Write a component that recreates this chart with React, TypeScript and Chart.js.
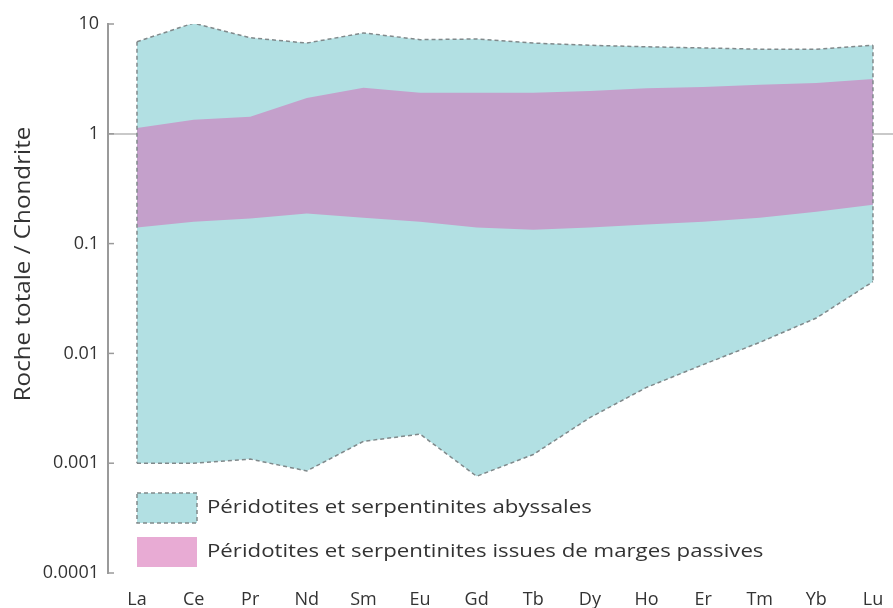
import { useEffect, useRef } from "react";
import { Chart, registerables } from "chart.js";

Chart.register(...registerables);

const elements = ["La", "Ce", "Pr", "Nd", "Sm", "Eu", "Gd", "Tb", "Dy", "Ho", "Er", "Tm", "Yb", "Lu"];
const yTickValues = [0.0001, 0.001, 0.01, 0.1, 1, 10];
const yTickLabels = ["0.0001", "0.001", "0.01", "0.1", "1", "10"];

const abyssalMax = [6.9, 10.2, 7.5, 6.7, 8.3, 7.2, 7.3, 6.7, 6.4, 6.2, 6.05, 5.9, 5.9, 6.4];
const abyssalMin = [0.001, 0.001, 0.00109, 0.00085, 0.00158, 0.00184, 0.00076, 0.0012, 0.0026, 0.0049, 0.0079, 0.0126, 0.021, 0.045];
const passiveMax = [1.13, 1.34, 1.43, 2.12, 2.62, 2.36, 2.36, 2.36, 2.46, 2.6, 2.67, 2.8, 2.9, 3.16];
const passiveMin = [0.14, 0.158, 0.169, 0.188, 0.172, 0.158, 0.14, 0.134, 0.14, 0.149, 0.158, 0.172, 0.195, 0.226];

const seriesNames = [
  "Péridotites et serpentinites abyssales",
  "Péridotites et serpentinites issues de marges passives",
];
const yTitle = "Roche totale / Chondrite";

const CYAN = "#b2e0e3";
const PURPLE = "#c4a0cb";
const PINK = "#e8abd4";
const DASH_COLOR = "#80898b";
const TEXT = "#333";
const FONT = "'Open Sans', 'Noto Sans', sans-serif";

const toPts = (arr: number[]) => arr.map((y, i) => ({ x: i, y }));

export default function App() {
  const ref = useRef<HTMLCanvasElement | null>(null);

  useEffect(() => {
    document.body.style.margin = "0";
    const canvas = ref.current;
    if (!canvas) return;
    const last = elements.length - 1;

    const extras = {
      id: "extras",
      afterDraw(chart: any) {
        const ctx = chart.ctx;
        const yScale = chart.scales.y;
        const area = chart.chartArea;
        ctx.save();
        // small inward tick marks
        ctx.strokeStyle = "#9a9a9a";
        ctx.lineWidth = 1.5;
        yTickValues.forEach((v) => {
          const py = yScale.getPixelForValue(v);
          ctx.beginPath();
          ctx.moveTo(area.left, py);
          ctx.lineTo(area.left + 6, py);
          ctx.stroke();
        });
        // axis title
        ctx.save();
        ctx.translate(24, 264);
        ctx.rotate(-Math.PI / 2);
        ctx.scale(1.1, 1);
        ctx.fillStyle = TEXT;
        ctx.font = `22px ${FONT}`;
        ctx.textAlign = "center";
        ctx.textBaseline = "middle";
        ctx.fillText(yTitle, 0, 0);
        ctx.restore();
        // legend
        const boxX = 137, boxW = 60, boxH = 30;
        const rows = [493, 537];
        ctx.fillStyle = CYAN;
        ctx.fillRect(boxX, rows[0], boxW, boxH);
        ctx.setLineDash([4, 3]);
        ctx.strokeStyle = DASH_COLOR;
        ctx.lineWidth = 1.5;
        ctx.strokeRect(boxX, rows[0], boxW, boxH);
        ctx.setLineDash([]);
        ctx.fillStyle = PINK;
        ctx.fillRect(boxX, rows[1], boxW, boxH);
        seriesNames.forEach((name, i) => {
          ctx.save();
          ctx.translate(207, rows[i] + boxH / 2);
          ctx.scale(1.17, 1);
          ctx.fillStyle = TEXT;
          ctx.font = `19px ${FONT}`;
          ctx.textAlign = "left";
          ctx.textBaseline = "middle";
          ctx.fillText(name, 0, 0);
          ctx.restore();
        });
        ctx.restore();
      },
    };

    const edge = (i: number) => ({
      label: "edge " + elements[i],
      data: [
        { x: i, y: abyssalMax[i] },
        { x: i, y: abyssalMin[i] },
      ],
      fill: false,
      borderColor: DASH_COLOR,
      borderWidth: 1.5,
      borderDash: [4, 3],
      pointRadius: 0,
      order: 0,
    });

    const chart = new Chart(canvas, {
      type: "line",
      data: {
        datasets: [
          {
            label: seriesNames[1] + " max",
            data: toPts(passiveMax),
            fill: "+1",
            backgroundColor: PURPLE,
            borderWidth: 0,
            pointRadius: 0,
            order: 1,
          },
          {
            label: seriesNames[1] + " min",
            data: toPts(passiveMin),
            fill: false,
            borderWidth: 0,
            pointRadius: 0,
            order: 1,
          },
          {
            label: seriesNames[0] + " max",
            data: toPts(abyssalMax),
            fill: "+1",
            backgroundColor: CYAN,
            borderColor: DASH_COLOR,
            borderWidth: 1.5,
            borderDash: [4, 3],
            pointRadius: 0,
            order: 3,
          },
          {
            label: seriesNames[0] + " min",
            data: toPts(abyssalMin),
            fill: false,
            borderColor: DASH_COLOR,
            borderWidth: 1.5,
            borderDash: [4, 3],
            pointRadius: 0,
            order: 2,
          },
          edge(0),
          edge(last),
        ],
      },
      options: {
        animation: false,
        responsive: false,
        events: [],
        layout: { padding: { top: 24, right: 0, left: 0, bottom: 0 } },
        plugins: {
          legend: { display: false },
          tooltip: { enabled: false },
          title: { display: false },
        },
        scales: {
          x: {
            type: "linear",
            min: -0.512,
            max: 13.354,
            afterBuildTicks: (axis: any) => {
              axis.ticks = elements.map((_, i) => ({ value: i }));
            },
            afterFit: (axis: any) => {
              axis.height = 35;
            },
            grid: { display: false },
            border: { display: false },
            ticks: {
              autoSkip: false,
              maxRotation: 0,
              padding: 8,
              color: TEXT,
              font: { family: FONT, size: 18 },
              callback: (v: any) => elements[v] ?? "",
            },
          },
          y: {
            type: "logarithmic",
            min: 0.0001,
            max: 10,
            z: 1,
            afterBuildTicks: (axis: any) => {
              axis.ticks = yTickValues.map((v) => ({ value: v }));
            },
            afterFit: (axis: any) => {
              axis.width = 108;
            },
            border: { display: true, color: "#9a9a9a", width: 2 },
            grid: {
              drawTicks: false,
              lineWidth: 2,
              color: (c: any) => (c.tick && c.tick.value === 1 ? "rgba(120,120,120,0.4)" : "rgba(0,0,0,0)"),
            },
            ticks: {
              padding: 9,
              color: TEXT,
              font: { family: FONT, size: 18 },
              callback: (v: any) => {
                const idx = yTickValues.indexOf(Number(v));
                return idx >= 0 ? yTickLabels[idx] : "";
              },
            },
          },
        },
      },
      plugins: [extras],
    } as any);

    return () => chart.destroy();
  }, []);

  return (
    <div style={{ width: 893, height: 608 }}>
      <canvas ref={ref} width={893} height={608} style={{ display: "block" }} />
    </div>
  );
}
